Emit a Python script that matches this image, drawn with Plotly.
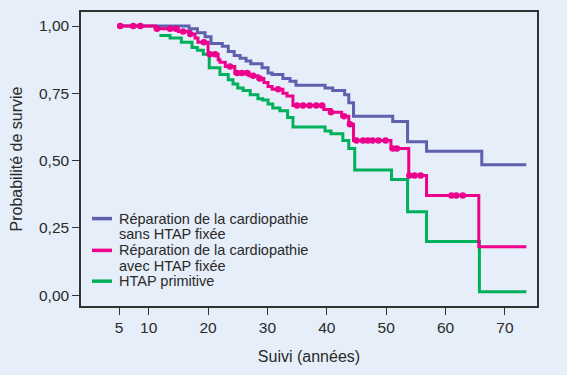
import plotly.graph_objects as go
import numpy as np

# Data (Kaplan-Meier style step curves)
blue_t = [4.9, 16.8, 18.2, 19.5, 20.5, 22.4, 23.4, 24.4, 25.4, 26.4, 27.2, 29.1, 30.1, 30.8,
          32.6, 33.8, 34.8, 39.7, 41.0, 43.0, 43.7, 44.5, 51.1, 53.6, 56.8, 66.1, 73.6]
blue_s = [1.0, 0.99, 0.975, 0.96, 0.935, 0.925, 0.905, 0.89, 0.88, 0.87, 0.86, 0.845, 0.825, 0.82,
          0.805, 0.795, 0.78, 0.77, 0.76, 0.745, 0.715, 0.665, 0.645, 0.57, 0.535, 0.485, 0.485]

pink_t = [5.2, 11.1, 15.0, 17.0, 17.8, 18.3, 20.0, 21.7, 22.0, 22.9, 24.5, 26.9, 28.4, 29.4,
          30.1, 30.8, 32.6, 33.3, 34.3, 39.5, 40.7, 42.5, 43.7, 44.5, 50.8, 53.8, 56.8, 65.6, 73.6]
pink_s = [1.0, 0.99, 0.98, 0.97, 0.955, 0.94, 0.895, 0.875, 0.865, 0.85, 0.825, 0.815, 0.805, 0.79,
          0.775, 0.765, 0.75, 0.74, 0.705, 0.69, 0.68, 0.665, 0.635, 0.575, 0.545, 0.445, 0.37, 0.18, 0.18]
pink_censor = [5.2, 7.4, 8.6, 11.4, 13.6, 14.6, 15.8, 17.0, 19.3, 20.3, 21.2, 23.7, 24.9, 25.7,
               26.6, 27.6, 28.7, 31.8, 35.0, 36.0, 37.1, 38.2, 39.2, 40.7, 42.9, 43.9, 45.0, 46.1,
               46.9, 47.7, 48.7, 49.9, 51.1, 51.8, 53.9, 54.8, 55.8, 61.0, 61.8, 62.9]

green_t = [11.8, 13.6, 15.5, 17.3, 18.2, 19.2, 20.2, 22.0, 23.4, 24.2, 25.0, 25.9, 27.1, 28.4,
           29.2, 30.1, 30.9, 32.1, 33.4, 34.3, 39.7, 40.7, 42.7, 43.7, 44.7, 50.9, 53.6, 56.8, 65.7, 73.6]
green_s = [0.965, 0.955, 0.94, 0.92, 0.91, 0.895, 0.845, 0.82, 0.80, 0.785, 0.77, 0.76, 0.745, 0.73,
           0.725, 0.71, 0.695, 0.685, 0.66, 0.625, 0.61, 0.60, 0.575, 0.545, 0.465, 0.43, 0.31, 0.20,
           0.013, 0.013]

legend_lines = [["Réparation de la cardiopathie", "sans HTAP fixée"],
                ["Réparation de la cardiopathie", "avec HTAP fixée"],
                ["HTAP primitive"]]
colors = ["#5d60ad", "#ec008c", "#00b05a"]

x_ticks = [5, 10, 20, 30, 40, 50, 60, 70]
y_ticks = [0, 0.25, 0.5, 0.75, 1.0]
y_ticklabels = ["0,00", "0,25", "0,50", "0,75", "1,00"]


def step_value(times, surv, t):
    idx = np.searchsorted(np.array(times), t, side="right") - 1
    idx = max(idx, 0)
    return surv[idx]


censor_y = [step_value(pink_t, pink_s, t) for t in pink_censor]

fig = go.Figure()
fig.add_trace(go.Scatter(x=blue_t, y=blue_s, mode="lines", line_shape="hv",
                         line=dict(color=colors[0], width=3), name=" ".join(legend_lines[0])))
fig.add_trace(go.Scatter(x=green_t, y=green_s, mode="lines", line_shape="hv",
                         line=dict(color=colors[2], width=3), name=" ".join(legend_lines[2])))
fig.add_trace(go.Scatter(x=pink_t, y=pink_s, mode="lines", line_shape="hv",
                         line=dict(color=colors[1], width=3), name=" ".join(legend_lines[1])))
fig.add_trace(go.Scatter(x=pink_censor, y=censor_y, mode="markers",
                         marker=dict(color=colors[1], size=6.5), name="censure"))

# Manual legend (to match the tight line spacing of the reference)
W, H, L, T = 456.0, 296.0, 81.0, 10.0
def px_x(p):
    return (p - L) / W
def px_y(p):
    return (T + H - p) / H

text_rows = [218, 233.5, 250, 265.5, 281]
sym_rows = [218, 250, 281]
annotations = []
row = 0
for i, lines in enumerate(legend_lines):
    for ln in lines:
        annotations.append(dict(x=px_x(117), y=px_y(text_rows[row]), xref="paper", yref="paper",
                                text=ln, showarrow=False, xanchor="left", yanchor="middle",
                                font=dict(size=14.5, color="#2a2a2a")))
        row += 1
shapes = []
for i, yy in enumerate(sym_rows):
    shapes.append(dict(type="line", xref="paper", yref="paper",
                       x0=px_x(92), x1=px_x(112), y0=px_y(yy), y1=px_y(yy),
                       line=dict(color=colors[i], width=3.5)))

bg = "#e5eef9"
fig.update_layout(
    width=567, height=375,
    margin=dict(l=81, r=30, t=10, b=69),
    paper_bgcolor=bg, plot_bgcolor=bg,
    font=dict(family="Liberation Sans, Arial, sans-serif", size=16, color="#2a2a2a"),
    showlegend=False,
    annotations=annotations,
    shapes=shapes,
    xaxis=dict(range=[-1.4, 75.4], tickvals=x_ticks, ticks="outside", ticklen=7,
               tickcolor="#333", showgrid=False, zeroline=False, tickfont=dict(size=15.5),
               showline=True, linecolor="#333", linewidth=1.5, mirror=True,
               title=dict(text="Suivi (années)", standoff=15, font=dict(size=16))),
    yaxis=dict(range=[-0.04, 1.052], tickvals=y_ticks, ticktext=y_ticklabels,
               ticks="outside", ticklen=7, tickcolor="#333", showgrid=False, zeroline=False,
               tickfont=dict(size=15.5),
               showline=True, linecolor="#333", linewidth=1.5, mirror=True,
               title=dict(text="Probabilité de survie", standoff=12, font=dict(size=16))),
)

fig.write_html("out.html", config={"displayModeBar": False},
               post_script="document.body.style.margin='0';document.body.style.background='%s';" % bg)
